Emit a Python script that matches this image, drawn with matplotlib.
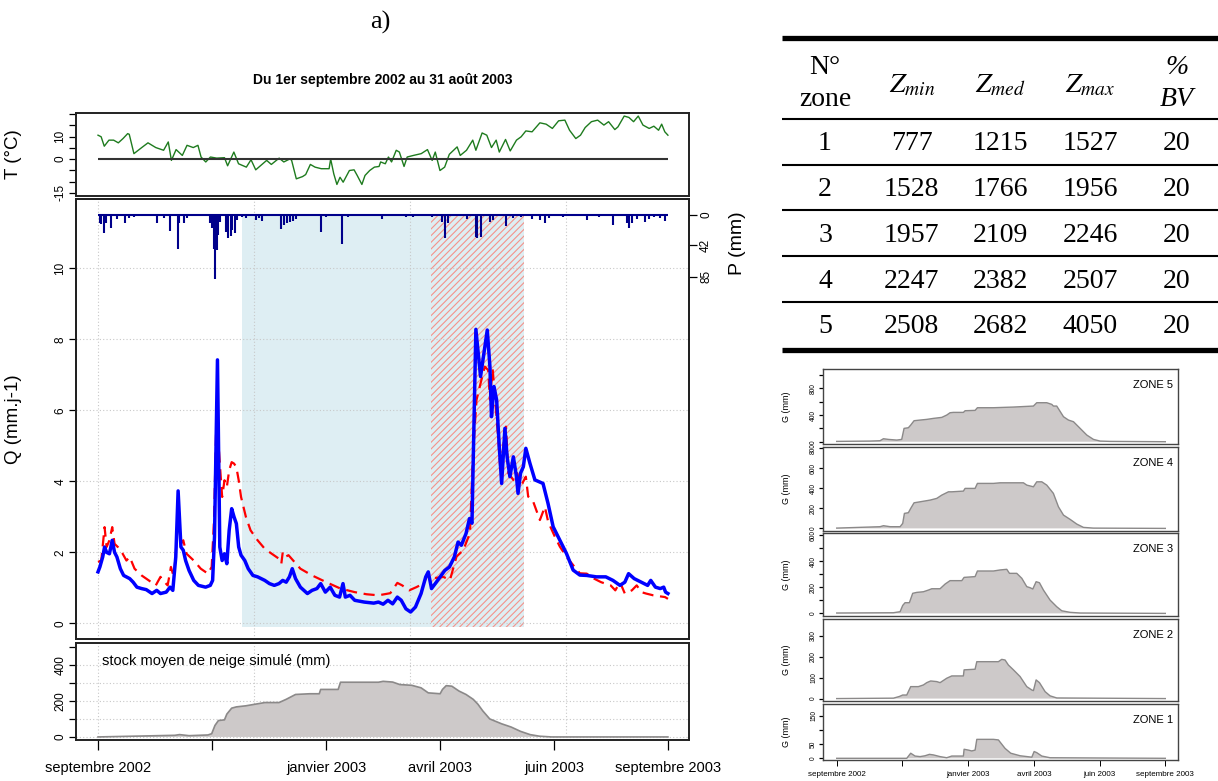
"""
Hydrogramme, température, précipitation et stock de neige simulé (sept 2002 - août 2003)
avec tableau des zones d'altitude et stock de neige par zone.
"""

import matplotlib
matplotlib.use('Agg')
import matplotlib.pyplot as plt
from matplotlib.patches import Rectangle

plt.rcParams['font.family'] = ['Liberation Sans', 'DejaVu Sans']
plt.rcParams['mathtext.fontset'] = 'stix'
plt.rcParams['hatch.linewidth'] = 0.8
plt.rcParams['hatch.color'] = '#F4938B'

W, H = 1218, 781

# ---------------------------------------------------------------- data
# x axis: days since 1 Sept 2002
tick_days = [0, 73, 146, 219, 292, 365]
tick_labels = ['septembre 2002', '', 'janvier 2003', 'avril 2003', 'juin 2003', 'septembre 2003']
grid_days = [0, 100, 200, 300]
accum_period = (92, 273)   # light blue shading
melt_period = (213, 273)   # hatched shading

# temperature (°C)
T_day = [0, 2, 4, 7, 10, 13, 16, 19, 20, 23, 28, 32, 37, 42, 45, 47, 50, 54, 57, 61,
         64, 66, 69, 72, 76, 81, 83, 87, 90, 95, 98, 101, 105, 108, 111, 116, 119, 123, 124, 127,
         131, 133, 136, 139, 143, 148, 149, 151, 153, 155, 157, 161, 164, 166, 169, 171, 174, 177, 180, 181,
         184, 186, 188, 191, 193, 196, 198, 202, 207, 211, 214, 216, 219, 222, 225, 230, 232, 236, 240, 242,
         246, 249, 252, 255, 257, 261, 264, 268, 271, 274, 278, 283, 287, 291, 295, 299, 302, 306, 309, 312,
         316, 320, 324, 327, 331, 333, 337, 340, 343, 346, 349, 353, 356, 359, 361, 363, 365]
T_val = [10.6, 9.9, 5.7, 8.4, 8.4, 7.2, 9.1, 11.3, 11.0, 2.4, 5.1, 7.2, 5.1, 3.9, 7.6, -0.6, 4.2, 1.6, 6.1, 5.1,
         6.1, 0.9, -1.3, 0.9, 0.4, 0.6, -3.0, 3.1, -2.1, -3.6, -0.3, -4.8, -2.4, -0.6, -2.4, 0.4, -1.3, 0.1, -0.6, -8.8,
         -7.8, -6.9, -2.4, -3.6, -4.3, -4.3, 0.0, -6.6, -11.3, -8.1, -10.3, -5.1, -4.8, -7.3, -11.3, -7.3, -5.1, -3.6, -3.3, -1.3,
         -2.1, 0.9, -1.3, 3.9, 3.1, -3.3, 0.9, 1.6, 2.4, 4.2, -0.6, 3.1, -5.1, -3.6, 2.1, 5.4, 1.6, 3.9, 8.4, 3.9,
         11.6, 10.6, 5.1, 8.4, 3.1, 8.7, 3.6, 8.4, 9.9, 12.5, 12.1, 16.1, 15.5, 13.6, 17.0, 17.3, 12.8, 9.1, 10.6, 14.0,
         16.6, 17.3, 15.1, 16.6, 13.1, 14.3, 19.1, 18.5, 16.6, 19.1, 15.1, 13.6, 14.6, 12.8, 15.5, 12.1, 10.6]

# observed discharge (mm/j)
Qobs_day = [0, 1.2, 3, 4.2, 5.5, 7.3, 9.1, 10.6, 12.1, 14.3, 16.4, 18.2, 20.3, 22.5, 24.9, 27.9, 30.9, 34.6, 37.6, 40,
            43.7, 46.1, 47.9, 49.8, 51.3, 53.1, 54.6, 56.1, 58.3, 61.3, 64.3, 68.9, 71.9, 73.4, 74.6, 76.5, 78, 79.5, 81, 82.5,
            84, 85.6, 87.1, 88.6, 90.1, 91.6, 94, 96.2, 99.2, 102.2, 106.8, 109.8, 112.9, 115.9, 118.3, 120.5, 122.6, 124.4, 126.5, 129.6,
            134.1, 137.1, 140.2, 142.6, 145.6, 148.7, 151.7, 154.7, 156.9, 158.4, 161.4, 164.4, 170.5, 176.6, 179.6, 182.6, 185.7, 188.7, 191.7, 194.2,
            197.2, 200.2, 203.3, 206.9, 209.9, 211.5, 213.6, 216, 219.1, 222.1, 225.1, 228.2, 230.6, 232.7, 235.7, 237.9, 239.5, 240.5, 242, 245,
            249.3, 251, 252, 253.6, 255.3, 257, 258.5, 260.6, 262, 263.8, 266, 268, 269, 270.6, 272.4, 274, 276.6, 279.8, 285, 288.2,
            291.5, 294.7, 300, 304.3, 308.6, 313, 319.2, 325.2, 329.8, 334.3, 337.4, 339.8, 343.4, 348, 352, 354, 357, 360.1, 362.3, 363.5, 365]
Qobs_val = [1.45, 1.59, 1.87, 2.15, 2.0, 1.96, 2.34, 2.0, 1.87, 1.54, 1.35, 1.31, 1.26, 1.16, 1.02, 0.98, 0.95, 0.84, 0.93, 0.84,
            0.88, 1.02, 0.93, 1.87, 3.73, 2.15, 2.06, 1.77, 1.49, 1.21, 1.07, 1.02, 1.07, 1.21, 2.43, 7.42, 2.15, 1.77, 1.96, 1.68,
            2.62, 3.23, 3.0, 2.81, 2.15, 1.92, 1.77, 1.54, 1.35, 1.31, 1.21, 1.12, 1.07, 1.12, 1.21, 1.16, 1.31, 1.54, 1.26, 1.02,
            0.84, 0.93, 0.98, 1.12, 0.88, 1.02, 0.79, 0.74, 1.12, 0.74, 0.79, 0.65, 0.6, 0.57, 0.6, 0.54, 0.65, 0.55, 0.74, 0.65,
            0.41, 0.32, 0.46, 0.84, 1.31, 1.45, 0.98, 1.12, 1.31, 1.49, 1.59, 1.87, 2.29, 2.2, 2.53, 2.95, 2.82, 5.0, 8.28, 6.95,
            8.26, 7.23, 5.82, 6.67, 6.29, 4.97, 3.94, 5.49, 4.69, 4.13, 4.69, 4.13, 3.66, 4.23, 4.41, 4.93, 4.51, 4.04, 3.94, 3.38,
            2.72, 2.44, 1.97, 1.5, 1.36, 1.35, 1.31, 1.31, 1.21, 1.07, 1.16, 1.4, 1.26, 1.16, 1.07, 1.21, 1.02, 0.98, 1.02, 0.88, 0.84]

# simulated discharge (mm/j)
Qsim_day = [0, 2.1, 4.2, 5.5, 7.3, 9.1, 10.6, 12.7, 15.8, 18.2, 20.3, 23.4, 27.9, 32.5, 37, 40, 41.6, 44.6, 46.7, 48.5,
            49.8, 51.3, 53.1, 54.6, 56.7, 61.3, 65.8, 70.4, 72.8, 74.3, 75.9, 78, 79.5, 81, 82.5, 84, 85.6, 87.1, 88.6, 90.1,
            91.6, 94.7, 97.7, 102.2, 106.8, 111.3, 115.9, 117.4, 118.3, 119.8, 122, 125, 129.6, 137.1, 146.2, 155.3, 164.4, 172, 179.6, 187.2,
            191.7, 194.8, 199.3, 203.9, 208.4, 211.5, 214.7, 221.1, 225.4, 229.6, 233.9, 238.2, 240.3, 242.4, 244.5, 247.7, 249.9, 251, 252.7, 254.2,
            256.4, 257.8, 260, 261.3, 262.8, 266, 268.5, 270.6, 274, 275.5, 278.7, 283, 286.2, 288.3, 292.6, 295.8, 300, 304.3, 308.6, 313,
            317.7, 322.2, 328.3, 331.3, 334.3, 337.4, 341.9, 345, 348, 351, 355.6, 360.1, 363.2, 365]
Qsim_val = [1.73, 1.77, 2.71, 2.15, 2.34, 2.71, 2.24, 2.15, 1.96, 1.77, 1.87, 1.54, 1.35, 1.21, 1.07, 1.31, 1.21, 1.07, 1.59, 1.31,
            1.96, 3.09, 2.24, 2.34, 1.96, 1.77, 1.54, 1.4, 1.59, 2.9, 5.92, 4.5, 3.56, 4.03, 3.84, 4.31, 4.54, 4.5, 4.4, 4.03,
            3.56, 3.0, 2.62, 2.34, 2.1, 1.96, 1.82, 1.68, 2.0, 1.87, 1.92, 1.77, 1.54, 1.35, 1.16, 0.98, 0.88, 0.82, 0.79, 0.85,
            1.14, 1.07, 0.93, 1.02, 1.12, 1.4, 1.27, 1.31, 1.22, 1.88, 2.06, 2.54, 4.88, 6.29, 6.67, 7.23, 7.13, 6.3, 7.18, 6.38,
            5.16, 4.23, 5.16, 5.54, 4.23, 4.04, 4.23, 3.85, 4.13, 3.57, 3.43, 2.91, 3.28, 2.86, 2.44, 2.16, 1.88, 1.64, 1.41, 1.4,
            1.26, 1.16, 1.07, 0.93, 1.16, 0.84, 0.93, 1.07, 0.88, 0.84, 0.79, 0.76, 0.74, 0.69]

# precipitation (mm/j)
P_day = [1, 2, 4, 5, 8, 12, 17, 20, 23, 38, 42, 46, 51, 52, 55, 57, 72, 73, 74, 75,
         76, 77, 78, 82, 83, 85, 86, 88, 89, 92, 95, 101, 103, 105, 117, 119, 121, 123, 125, 127,
         143, 146, 156, 160, 182, 197, 202, 214, 220, 222, 224, 236, 242, 243, 245, 251, 253, 261, 266, 271,
         278, 283, 286, 289, 298, 313, 321, 330, 339, 340, 342, 345, 350, 353, 356, 360, 363]
P_val = [10.6, 12.4, 25, 10.6, 18, 6, 10.6, 4.6, 2.3, 10.6, 4.6, 21.6, 47.3, 11.5, 11.5, 4.6, 11.5, 18, 47.3, 88,
         48, 27.5, 9.2, 23, 32, 29, 20.7, 24.8, 6.9, 2.3, 4.6, 6.9, 4.6, 7.8, 19.7, 13.8, 11.5, 9.2, 7.8, 6,
         23, 3.2, 40, 2.3, 6, 3.2, 2.3, 2.3, 9.2, 32, 11.5, 6, 30, 32, 30, 9.2, 6.9, 15, 4.6, 2.3,
         6, 6.9, 10.6, 4.6, 3.2, 6.9, 2.3, 13.8, 11.5, 18, 11.5, 6, 9.2, 6, 3.2, 4.6, 7.8]

# mean simulated snow stock (mm)
S_day = [0, 49.2, 52.2, 58.3, 70.4, 72.8, 74.9, 77.1, 81, 82.5, 85.6, 88.6, 94.7, 100.7, 106.8, 115.9, 120.5, 126.5, 135.6, 141.7,
         142.6, 153.8, 155.3, 164.4, 179.6, 182.6, 188.7, 193.3, 200.9, 206.9, 211.5, 219.1, 220.6, 223, 226.6, 231.2, 235.7, 240.3, 243.3, 246.4,
         250.9, 258.5, 264.6, 270.6, 276.7, 282.8, 290.4, 365]
S_val = [0, 9, 13, 7, 11, 18, 64, 91, 95, 127, 160, 167, 173, 182, 191, 191, 209, 236, 240, 240,
         264, 264, 304, 304, 304, 309, 305, 291, 287, 273, 245, 240, 264, 285, 282, 255, 236, 209, 182, 145,
         100, 73, 55, 31, 13, 4, 0, 0]

# snow stock per elevation zone (mm)
Z5_day = [0, 37, 48.1, 51.9, 57.4, 66.7, 72.2, 74.8, 79.6, 82.2, 85.9, 92.6, 100, 107.4, 116.7, 122.2, 125.9, 129.6, 140.7, 142.6,
          153.7, 156.3, 174.1, 196.3, 218.5, 222.2, 233.3, 238.9, 240.7, 244.4, 251.9, 257.4, 263, 270.4, 277.8, 285.2, 292.6, 303.7, 365]
Z5_val = [5, 10, 15, 45, 35, 25, 35, 200, 210, 250, 315, 325, 335, 350, 365, 400, 435, 440, 440, 465,
          470, 510, 510, 520, 535, 585, 585, 560, 535, 535, 375, 325, 300, 200, 100, 35, 10, 5, 0]
Z4_day = [0, 48.1, 51.9, 59.3, 70.4, 73.3, 75.2, 79.6, 82.2, 85.9, 92.6, 103.7, 111.1, 116.7, 124.1, 127.8, 140.7, 142.6, 153.7, 156.3,
          174.1, 181.5, 207.4, 211.1, 218.5, 222.2, 227.8, 233.3, 240.7, 246.3, 251.9, 259.3, 266.7, 274.1, 285.2, 365]
Z4_val = [3, 17, 27, 17, 17, 50, 150, 157, 200, 256, 266, 283, 300, 333, 366, 366, 373, 400, 400, 450,
          450, 456, 456, 433, 416, 466, 466, 433, 350, 216, 133, 90, 43, 10, 3, 0]
Z3_day = [0, 63, 70.4, 73.3, 75.9, 80.7, 84.4, 88.9, 96.3, 101.9, 105.6, 114.8, 120.4, 125.9, 138.9, 141.5, 153.7, 156.3, 174.1, 181.5,
          188.9, 191.9, 200, 205.6, 211.1, 214.8, 217.8, 221.5, 225.2, 229.6, 237, 244.4, 250, 259.3, 270.4, 365]
Z3_val = [3, 5, 13, 61, 82, 82, 154, 161, 166, 179, 189, 189, 225, 251, 251, 276, 282, 325, 325, 333,
          338, 307, 307, 269, 205, 197, 187, 243, 235, 179, 102, 51, 20, 8, 3, 0]
Z2_day = [0, 63, 69.6, 73.3, 77.8, 82.2, 90.7, 96.3, 100, 104.4, 111.1, 114.8, 122.2, 127.8, 140.7, 141.5, 153.7, 155.6, 179.6, 183.3,
          187, 190.7, 196.3, 203.7, 211.1, 216.7, 218.5, 221.5, 225.2, 231.5, 237, 244.4, 365]
Z2_val = [0, 2, 10, 17, 17, 57, 57, 65, 76, 84, 81, 76, 97, 108, 108, 137, 140, 176, 176, 187,
          184, 160, 137, 105, 57, 41, 38, 89, 76, 33, 13, 3, 0]
Z1_day = [0, 77.8, 82.2, 87, 92.6, 98.1, 103, 107.4, 114.8, 122.2, 127.8, 140.7, 141.5, 146.3, 150, 153.7, 155.6, 174.1, 179.6, 187,
          193.3, 203.7, 216.7, 219.3, 222.2, 227.8, 237, 365]
Z1_val = [0, 0, 18, 8, 6, 9, 14, 12, 6, 2, 8, 8, 32, 29, 26, 29, 67, 67, 65, 35,
          18, 9, 4, 24, 20, 8, 2, 0]

zones = [
    ('ZONE 5', Z5_day, Z5_val, (-34, 1086), [0, 200, 400, 600, 800, 1000], ['0', '', '400', '', '800', '']),
    ('ZONE 4', Z4_day, Z4_val, (-23, 817), [0, 200, 400, 600, 800], ['0', '200', '400', '600', '800']),
    ('ZONE 3', Z3_day, Z3_val, (-20, 614), [0, 100, 200, 300, 400, 500, 600], ['0', '', '200', '', '400', '', '600']),
    ('ZONE 2', Z2_day, Z2_val, (-13, 381), [0, 100, 200, 300], ['0', '100', '200', '300']),
    ('ZONE 1', Z1_day, Z1_val, (-6, 192), [0, 50, 100, 150], ['0', '50', '', '150']),
]

# zone table
tab_zone = ['1', '2', '3', '4', '5']
tab_zmin = [777, 1528, 1957, 2247, 2508]
tab_zmed = [1215, 1766, 2109, 2382, 2682]
tab_zmax = [1527, 1956, 2246, 2507, 4050]
tab_bv = [20, 20, 20, 20, 20]

# ---------------------------------------------------------------- styles
BLUE_SHADE = '#DEEEF3'
SNOW_FILL = '#CDC9C9'
SNOW_EDGE = '#8B8989'
GRID = dict(color='#C8C8C8', lw=0.8, ls=(0, (1, 2)), zorder=1.5)
XLIM_L = (-14.1, 378.5)
XLIM_R = (-14.9, 379.1)


def px_axes(fig, x0, y0, x1, y1):
    """Axes placed with pixel coordinates (top-left origin)."""
    return fig.add_axes([x0 / W, 1 - y1 / H, (x1 - x0) / W, (y1 - y0) / H])


def style_frame(ax, color='#222222', lw=1.4):
    for sp in ax.spines.values():
        sp.set_color(color)
        sp.set_linewidth(lw)


def rot_yticks(ax, size, pad=2, length=5):
    ax.tick_params(axis='y', direction='out', length=length, width=0.9,
                   labelsize=size, labelrotation=90, pad=pad)
    for lab in ax.get_yticklabels():
        lab.set_va('center')


fig = plt.figure(figsize=(W / 100, H / 100), dpi=100)

# ---------------------------------------------------------------- table (pixel overlay)
axt = fig.add_axes([0, 0, 1, 1])
axt.set_xlim(0, W)
axt.set_ylim(H, 0)
axt.axis('off')
for yy, lw in [(38, 3.8), (119, 1.5), (165, 1.5), (210, 1.5), (256, 1.5), (302, 1.5), (350, 3.8)]:
    axt.plot([782, W], [yy, yy], color='black', lw=lw, solid_capstyle='butt')
col_x = [825, 911.7, 1000, 1090, 1176.7]
row_y = [144, 190, 235, 281, 326.7]
serif = dict(family=['Liberation Serif', 'DejaVu Serif'], ha='center', va='center')
axt.text(col_x[0], 67, 'N°', fontsize=20, **serif)
axt.text(col_x[0], 99, 'zone', fontsize=20, **serif)
for cx, lab in zip(col_x[1:4], [r'$Z_{min}$', r'$Z_{med}$', r'$Z_{max}$']):
    axt.text(cx, 86, lab, fontsize=20, **serif)
axt.text(col_x[4], 67, '%', fontsize=20, style='italic', **serif)
axt.text(col_x[4], 100, 'BV', fontsize=20, style='italic', **serif)
for i, ry in enumerate(row_y):
    row = [tab_zone[i], tab_zmin[i], tab_zmed[i], tab_zmax[i], tab_bv[i]]
    for cx, v in zip(col_x, row):
        axt.text(cx, ry, str(v), fontsize=20, **serif)

fig.text(380 / W, 1 - 22 / H, 'a)', fontsize=19, ha='center', va='center',
         family=['Liberation Serif', 'DejaVu Serif'])
fig.text(383 / W, 1 - 80 / H, 'Du 1er septembre 2002 au 31 août 2003',
         fontsize=10, fontweight='bold', ha='center', va='center')

# ---------------------------------------------------------------- temperature
ax_t = px_axes(fig, 76, 112.7, 689, 195.7)
ax_t.plot(T_day, T_val, color='#1E7B1E', lw=1.0)
ax_t.hlines(0, T_day[0], T_day[-1], color='#333333', lw=1.5)
ax_t.set_xlim(*XLIM_L)
ax_t.set_ylim(-16.3, 20.6)
ax_t.set_yticks([-15, -10, -5, 0, 5, 10, 15, 20], labels=['-15', '', '', '0', '', '10', '', ''])
rot_yticks(ax_t, 8.5)
ax_t.tick_params(axis='x', bottom=False, labelbottom=False)
ax_t.set_ylabel('T (°C)', fontsize=13.5)
ax_t.yaxis.set_label_coords(-0.088, 0.5)
style_frame(ax_t)

# ---------------------------------------------------------------- discharge + precipitation
ax_q = px_axes(fig, 76, 199, 689, 639)
ax_q.add_patch(Rectangle((accum_period[0], -0.11), accum_period[1] - accum_period[0], 11.61,
                         facecolor=BLUE_SHADE, edgecolor='none', zorder=1))
ax_q.add_patch(Rectangle((melt_period[0], -0.11), melt_period[1] - melt_period[0], 11.61,
                         facecolor='none', edgecolor='#F4938B', lw=0, hatch='/////', zorder=1.2))
for d in grid_days:
    ax_q.axvline(d, **GRID)
for q in [0, 2, 4, 6, 8, 10]:
    ax_q.axhline(q, **GRID)
ax_q.plot(Qsim_day, Qsim_val, color='#FF0000', lw=1.6, dashes=(5, 3), zorder=3)
ax_q.plot(Qobs_day, Qobs_val, color='#0000FF', lw=2.5, zorder=4)
ax_q.set_xlim(*XLIM_L)
ax_q.set_ylim(-0.44, 11.95)
ax_q.set_yticks([0, 2, 4, 6, 8, 10])
rot_yticks(ax_q, 8.5)
ax_q.tick_params(axis='x', bottom=False, labelbottom=False)
ax_q.set_ylabel('Q (mm.j-1)', fontsize=13.5)
ax_q.yaxis.set_label_coords(-0.088, 0.5)
style_frame(ax_q)

ax_p = ax_q.twinx()
ax_p.vlines(P_day, 0, P_val, color='#00008B', lw=1.5)
ax_p.hlines(0, T_day[0], T_day[-1], color='#00008B', lw=1.5)
ax_p.set_ylim(584, -22)
ax_p.set_yticks([0, 42, 85])
rot_yticks(ax_p, 8.5, length=6)
ax_p.set_ylabel('P (mm)', fontsize=14, rotation=90)
ax_p.yaxis.set_label_coords(1.066, 0.9)
style_frame(ax_p)

# ---------------------------------------------------------------- mean snow stock
ax_s = px_axes(fig, 76, 643, 689, 740)
for d in grid_days:
    ax_s.axvline(d, **GRID)
for v in [0, 100, 200, 300, 400]:
    ax_s.axhline(v, **GRID)
ax_s.fill_between(S_day, 0, S_val, facecolor=SNOW_FILL, edgecolor='none', zorder=2)
ax_s.plot(S_day, S_val, color=SNOW_EDGE, lw=1.2, zorder=3)
ax_s.text(0.042, 0.81, 'stock moyen de neige simulé (mm)', transform=ax_s.transAxes,
          fontsize=10.5, ha='left', va='center')
ax_s.set_xlim(*XLIM_L)
ax_s.set_ylim(-17, 522)
ax_s.set_yticks([0, 100, 200, 300, 400, 500], labels=['0', '', '200', '', '400', ''])
rot_yticks(ax_s, 8.5)
ax_s.set_xticks(tick_days, labels=tick_labels)
ax_s.tick_params(axis='x', direction='out', length=7, width=0.9, labelsize=10.5, pad=8)
style_frame(ax_s)

# ---------------------------------------------------------------- snow stock per zone
zone_box = [(369.3, 444), (446.7, 530.7), (533.3, 616), (618.7, 701.3), (704, 760)]
for (name, zd, zv, ylim, yt, ytl), (y0, y1) in zip(zones, zone_box):
    ax = px_axes(fig, 823.3, y0, 1178, y1)
    ax.fill_between(zd, 0, zv, facecolor=SNOW_FILL, edgecolor='none')
    ax.plot(zd, zv, color=SNOW_EDGE, lw=1.0)
    ax.set_xlim(*XLIM_R)
    ax.set_ylim(*ylim)
    ax.set_yticks(yt, labels=ytl)
    rot_yticks(ax, 4.8, pad=1.5, length=3)
    ax.set_ylabel('G (mm)', fontsize=6.5)
    ax.yaxis.set_label_coords(-0.09, 0.5)
    ax.annotate(name, xy=(1, 1), xycoords='axes fraction', xytext=(-5, -16),
                textcoords='offset pixels', ha='right', va='center', fontsize=8)
    style_frame(ax, color='#444444', lw=1.0)
    if name == 'ZONE 1':
        ax.set_xticks(tick_days, labels=tick_labels)
        ax.tick_params(axis='x', direction='out', length=4, width=0.7, labelsize=5.8, pad=4)
    else:
        ax.tick_params(axis='x', bottom=False, labelbottom=False)

plt.savefig('out.png', dpi=100)
plt.close()
print("Figure saved to out.png")
